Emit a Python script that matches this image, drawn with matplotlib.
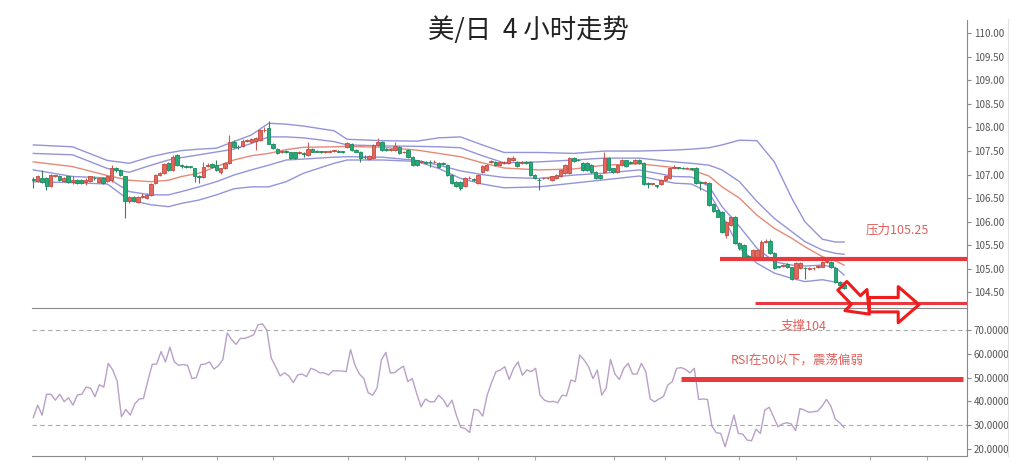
import numpy as np
import matplotlib
matplotlib.use("Agg")
import matplotlib.pyplot as plt
from matplotlib.lines import Line2D

plt.rcParams['font.family'] = ['Noto Sans CJK SC', 'DejaVu Sans']

# 4h candles (USD/JPY)
opens = [106.91, 106.87, 106.92, 106.92, 106.76, 106.97, 106.98, 106.87, 106.96, 106.85,
         106.89, 106.88, 106.85, 106.86, 106.93, 106.85, 106.92, 106.87, 106.89, 107.13,
         107.10, 106.96, 106.43, 106.52, 106.41, 106.53, 106.50, 106.57, 106.82, 106.99,
         107.03, 107.24, 107.10, 107.42, 107.19, 107.18, 107.17, 107.13, 106.96, 106.95,
         107.18, 107.22, 107.20, 107.06, 107.13, 107.24, 107.70, 107.59, 107.60, 107.72,
         107.70, 107.72, 107.73, 107.94, 107.98, 107.66, 107.54, 107.48, 107.49, 107.47,
         107.47, 107.46, 107.45, 107.42, 107.54, 107.50, 107.49, 107.48, 107.49, 107.50,
         107.50, 107.49, 107.58, 107.65, 107.53, 107.49, 107.38, 107.33, 107.36, 107.63,
         107.70, 107.54, 107.53, 107.53, 107.59, 107.47, 107.52, 107.38, 107.30, 107.27,
         107.26, 107.27, 107.26, 107.25, 107.24, 107.20, 106.99, 106.85, 106.85, 106.75,
         106.92, 106.90, 106.82, 107.06, 107.10, 107.27, 107.27, 107.20, 107.25, 107.24,
         107.30, 107.27, 107.25, 107.26, 107.27, 106.99, 106.89, 106.92, 106.92, 106.89,
         106.92, 106.96, 107.03, 107.03, 107.35, 107.31, 107.24, 107.24, 107.20, 107.06,
         106.99, 107.06, 107.35, 107.13, 107.06, 107.20, 107.30, 107.26, 107.24, 107.31,
         107.24, 106.82, 106.80, 106.77, 106.80, 106.89, 106.92, 107.15, 107.15, 107.14,
         107.13, 107.13, 107.15, 106.83, 106.83, 106.82, 106.38, 106.25, 106.20, 105.72,
         105.93, 106.11, 105.54, 105.51, 105.27, 105.26, 105.26, 105.26, 105.58, 105.59,
         105.33, 105.05, 105.06, 105.10, 105.03, 104.80, 105.01, 105.02, 105.00, 105.01,
         105.04, 105.05, 105.15, 105.15, 105.01, 104.73, 104.66]
closes = [106.88, 106.96, 106.85, 106.75, 106.99, 106.98, 106.89, 106.92, 106.85, 106.89,
          106.82, 106.82, 106.89, 106.96, 106.92, 106.92, 106.83, 106.96, 107.15, 107.10,
          106.99, 106.43, 106.52, 106.43, 106.52, 106.55, 106.57, 106.80, 106.99, 107.03,
          107.22, 107.10, 107.38, 107.20, 107.18, 107.17, 107.16, 106.96, 106.94, 107.17,
          107.20, 107.16, 107.10, 107.13, 107.24, 107.70, 107.59, 107.58, 107.72, 107.73,
          107.75, 107.77, 107.94, 107.95, 107.66, 107.56, 107.45, 107.49, 107.48, 107.36,
          107.35, 107.47, 107.44, 107.54, 107.49, 107.49, 107.48, 107.49, 107.50, 107.50,
          107.49, 107.48, 107.68, 107.52, 107.49, 107.35, 107.37, 107.40, 107.63, 107.70,
          107.52, 107.53, 107.54, 107.61, 107.45, 107.48, 107.38, 107.20, 107.20, 107.28,
          107.25, 107.26, 107.27, 107.17, 107.23, 106.99, 106.83, 106.76, 106.71, 106.92,
          106.93, 106.89, 106.99, 107.18, 107.20, 107.28, 107.20, 107.27, 107.26, 107.36,
          107.36, 107.18, 107.26, 107.25, 106.99, 106.92, 106.88, 106.93, 106.92, 106.96,
          106.99, 107.10, 107.20, 107.35, 107.28, 107.30, 107.10, 107.10, 107.06, 106.92,
          106.93, 107.35, 107.10, 107.06, 107.20, 107.31, 107.18, 107.25, 107.32, 107.24,
          106.80, 106.81, 106.81, 106.76, 106.89, 106.97, 107.15, 107.16, 107.14, 107.13,
          107.14, 107.12, 106.82, 106.82, 106.84, 106.36, 106.23, 106.11, 105.79, 106.00,
          106.11, 105.54, 105.44, 105.26, 105.26, 105.40, 105.40, 105.58, 105.59, 105.33,
          105.01, 105.04, 105.07, 105.03, 104.79, 105.12, 105.12, 105.01, 105.01, 105.02,
          105.05, 105.15, 105.16, 105.03, 104.73, 104.66, 104.59]
highs = [106.95, 106.99, 107.10, 106.95, 107.01, 107.00, 107.00, 106.94, 106.98, 106.96,
         106.91, 106.90, 106.92, 106.98, 106.96, 106.95, 106.94, 106.99, 107.20, 107.17,
         107.12, 106.98, 106.55, 106.54, 106.55, 106.60, 106.62, 106.83, 107.01, 107.06,
         107.25, 107.26, 107.42, 107.44, 107.22, 107.20, 107.19, 107.15, 106.99, 107.27,
         107.24, 107.25, 107.30, 107.15, 107.26, 107.84, 107.73, 107.62, 107.75, 107.76,
         107.78, 107.80, 107.97, 108.00, 108.14, 107.68, 107.56, 107.52, 107.52, 107.49,
         107.49, 107.50, 107.48, 107.70, 107.56, 107.52, 107.51, 107.51, 107.52, 107.53,
         107.52, 107.51, 107.70, 107.67, 107.55, 107.51, 107.41, 107.42, 107.66, 107.77,
         107.72, 107.56, 107.56, 107.70, 107.61, 107.51, 107.54, 107.40, 107.32, 107.31,
         107.29, 107.32, 107.30, 107.27, 107.27, 107.22, 107.01, 106.87, 106.87, 106.94,
         106.96, 106.92, 107.01, 107.20, 107.22, 107.32, 107.29, 107.29, 107.29, 107.38,
         107.40, 107.29, 107.28, 107.28, 107.29, 107.01, 106.92, 106.95, 106.95, 106.98,
         107.01, 107.12, 107.22, 107.37, 107.37, 107.33, 107.26, 107.26, 107.22, 107.08,
         107.01, 107.49, 107.37, 107.15, 107.22, 107.33, 107.32, 107.28, 107.34, 107.33,
         107.26, 106.84, 106.83, 106.79, 106.91, 106.99, 107.17, 107.20, 107.17, 107.16,
         107.16, 107.15, 107.17, 106.85, 106.87, 106.84, 106.40, 106.27, 106.22, 106.02,
         106.13, 106.13, 105.58, 105.53, 105.30, 105.42, 105.42, 105.62, 105.63, 105.63,
         105.35, 105.07, 105.10, 105.12, 105.05, 105.14, 105.14, 105.05, 105.03, 105.05,
         105.08, 105.17, 105.20, 105.17, 105.03, 104.75, 104.68]
lows = [106.72, 106.84, 106.83, 106.68, 106.74, 106.94, 106.87, 106.85, 106.83, 106.80,
        106.80, 106.80, 106.78, 106.84, 106.89, 106.83, 106.81, 106.85, 106.85, 107.06,
        106.97, 106.07, 106.40, 106.41, 106.39, 106.50, 106.48, 106.55, 106.80, 106.97,
        107.01, 107.08, 107.08, 107.18, 107.15, 107.15, 107.14, 106.85, 106.82, 106.93,
        107.16, 107.14, 107.08, 107.02, 107.11, 107.22, 107.57, 107.55, 107.58, 107.69,
        107.68, 107.52, 107.71, 107.91, 107.64, 107.54, 107.43, 107.45, 107.45, 107.33,
        107.33, 107.43, 107.38, 107.40, 107.47, 107.47, 107.46, 107.46, 107.47, 107.48,
        107.47, 107.46, 107.56, 107.50, 107.47, 107.26, 107.34, 107.31, 107.34, 107.61,
        107.50, 107.51, 107.51, 107.51, 107.43, 107.45, 107.36, 107.18, 107.18, 107.25,
        107.22, 107.16, 107.24, 107.15, 107.21, 106.97, 106.81, 106.74, 106.67, 106.73,
        106.90, 106.87, 106.80, 107.04, 107.08, 107.25, 107.18, 107.18, 107.22, 107.22,
        107.28, 107.16, 107.23, 107.23, 106.97, 106.90, 106.67, 106.90, 106.90, 106.87,
        106.90, 106.94, 107.01, 107.01, 107.26, 107.28, 107.08, 107.08, 107.04, 106.90,
        106.91, 107.04, 107.08, 107.04, 107.04, 107.18, 107.16, 107.23, 107.22, 107.22,
        106.78, 106.71, 106.78, 106.72, 106.78, 106.87, 106.90, 107.13, 107.12, 107.11,
        107.11, 107.10, 106.80, 106.68, 106.80, 106.34, 106.21, 106.09, 105.77, 105.66,
        105.90, 105.52, 105.40, 105.24, 105.20, 105.24, 105.24, 105.24, 105.55, 105.31,
        104.99, 105.01, 105.03, 105.01, 104.77, 104.78, 104.99, 104.78, 104.97, 104.98,
        105.01, 105.03, 105.12, 105.01, 104.71, 104.64, 104.57]

# bands, read at these candle numbers
band_at = [0, 9, 17, 22, 27, 31, 34, 38, 42, 46, 50, 54, 58, 62, 69, 72, 80, 88, 93,
           98, 103, 108, 116, 124, 131, 139, 147, 151, 155, 158, 162, 166, 170, 174,
           177, 181, 184, 186]
band_up2 = [107.63, 107.59, 107.30, 107.24, 107.38, 107.46, 107.51, 107.54, 107.56, 107.70,
            107.84, 108.09, 108.07, 108.03, 107.93, 107.75, 107.72, 107.71, 107.78, 107.80,
            107.63, 107.47, 107.47, 107.45, 107.50, 107.50, 107.52, 107.54, 107.57, 107.63,
            107.73, 107.72, 107.27, 106.50, 106.00, 105.63, 105.57, 105.57]
band_up1 = [107.45, 107.42, 107.13, 107.05, 107.20, 107.31, 107.36, 107.42, 107.48, 107.54,
            107.66, 107.80, 107.80, 107.78, 107.70, 107.63, 107.61, 107.60, 107.59, 107.57,
            107.40, 107.25, 107.27, 107.31, 107.35, 107.35, 107.27, 107.24, 107.20, 107.10,
            106.85, 106.43, 106.07, 105.79, 105.58, 105.40, 105.33, 105.31]
band_mid = [107.27, 107.17, 106.98, 106.88, 106.85, 106.88, 106.96, 107.03, 107.17, 107.31,
            107.40, 107.45, 107.53, 107.58, 107.59, 107.60, 107.58, 107.52, 107.45, 107.38,
            107.25, 107.14, 107.10, 107.12, 107.20, 107.23, 107.15, 107.10, 106.97, 106.74,
            106.50, 106.14, 105.86, 105.65, 105.47, 105.26, 105.17, 105.08]
band_lo1 = [107.10, 106.96, 106.93, 106.64, 106.57, 106.57, 106.64, 106.74, 106.85, 106.99,
            107.10, 107.20, 107.31, 107.33, 107.37, 107.38, 107.37, 107.30, 107.20, 107.08,
            107.00, 106.94, 106.92, 106.99, 107.03, 107.10, 106.96, 106.95, 106.75, 106.32,
            105.90, 105.44, 105.15, 105.08, 105.06, 105.08, 105.03, 104.87]
band_lo2 = [106.85, 106.83, 106.80, 106.46, 106.36, 106.32, 106.39, 106.46, 106.57, 106.70,
            106.74, 106.74, 106.85, 107.03, 107.24, 107.31, 107.31, 107.28, 107.13, 106.92,
            106.80, 106.72, 106.74, 106.82, 106.89, 106.97, 106.82, 106.80, 106.62, 106.14,
            105.44, 105.12, 104.91, 104.80, 104.73, 104.77, 104.72, 104.70]

rsi = [33.2, 38.4, 34.2, 43.0, 43.0, 40.5, 43.0, 39.9, 41.5, 38.4, 42.7, 43.0, 46.0, 45.5,
       42.0, 47.0, 46.0, 56.0, 53.3, 48.7, 33.5, 36.6, 34.2, 38.8, 41.0, 41.2, 48.7, 55.6,
       55.7, 61.0, 56.6, 62.8, 56.6, 55.2, 55.5, 55.2, 49.6, 50.0, 55.5, 55.7, 56.6, 53.6,
       55.0, 57.5, 68.8, 66.0, 64.0, 66.5, 66.5, 67.2, 68.0, 72.2, 72.6, 70.0, 58.2, 54.6,
       50.7, 52.0, 50.7, 47.9, 51.1, 51.5, 50.4, 53.9, 53.2, 52.0, 52.0, 51.1, 52.9, 52.8,
       52.8, 52.5, 61.8, 55.2, 51.5, 49.6, 43.6, 42.6, 45.5, 57.5, 60.6, 52.0, 52.1, 53.6,
       54.8, 48.3, 49.6, 43.3, 37.7, 41.0, 39.8, 39.8, 42.6, 40.8, 37.7, 40.5, 34.2, 29.0,
       28.6, 26.9, 36.6, 36.3, 33.8, 42.6, 47.9, 52.5, 53.2, 54.6, 49.2, 53.9, 56.6,
       51.0, 53.2, 52.5, 53.9, 42.6, 40.5, 39.8, 40.0, 39.4, 42.6, 42.3, 49.0, 48.3, 59.5,
       57.4, 54.6, 49.6, 53.2, 42.6, 45.5, 57.7, 51.5, 49.2, 53.9, 56.0, 51.5, 51.5, 56.0,
       52.5, 41.0, 39.8, 41.0, 42.0, 46.9, 48.3, 53.9, 54.2, 53.5, 52.0, 53.9, 40.8, 41.0,
       40.8, 29.6, 26.8, 26.5, 20.9, 27.4, 34.2, 26.5, 26.2, 23.7, 23.4, 28.3, 26.5, 36.3,
       37.5, 33.5, 29.3, 30.5, 31.0, 30.5, 27.7, 37.0, 36.3, 35.4, 35.6, 35.9, 38.0, 40.8,
       38.0, 32.5, 31.0, 29.0]

# session separators on the time axis (candle numbers)
day_marks = [11.9, 25, 42.2, 55, 72.2, 85.3, 102, 115, 133.3, 145, 162, 175, 192, 205]

price_ticks = [104.5, 105.0, 105.5, 106.0, 106.5, 107.0, 107.5, 108.0, 108.5, 109.0, 109.5, 110.0]
rsi_ticks = [20, 30, 40, 50, 60, 70]

resistance = 105.22
support = 104.28
rsi_mark = 49.5

RED = '#e8393f'
LABEL_RED = '#e0605c'

fig = plt.figure(figsize=(10.24, 4.70), dpi=100)
ax = fig.add_axes([0.03125, 0.3447, 0.9131, 0.6127])
ax2 = fig.add_axes([0.03125, 0.0298, 0.9131, 0.3149], sharex=ax)
ax.set_zorder(2)
ax2.set_zorder(1)

n = len(closes)
x = np.arange(n)
o = np.array(opens)
c = np.array(closes)
up = c >= o

# wicks
ax.vlines(x[up], np.array(lows)[up], np.array(highs)[up], color='#c4605a', lw=0.8, zorder=2)
ax.vlines(x[~up], np.array(lows)[~up], np.array(highs)[~up], color='#3f7f66', lw=0.8, zorder=2)
# bodies
body = np.maximum(np.abs(c - o), 0.014)
bottom = np.minimum(o, c)
ax.bar(x[up], body[up], bottom=bottom[up], width=0.78, color='#e3675e',
       edgecolor='#c24a42', lw=0.6, zorder=3)
ax.bar(x[~up], body[~up], bottom=bottom[~up], width=0.78, color='#22ab78',
       edgecolor='#1c8a5e', lw=0.6, zorder=3)

# bands
for vals in (band_up2, band_up1, band_lo1, band_lo2):
    ax.plot(band_at, vals, color='#9494da', lw=1.0, zorder=1)
ax.plot(band_at, band_mid, color='#e58a78', lw=1.0, zorder=1)

xmax = 214.2
ax.set_xlim(-0.3, xmax)
ax.set_ylim(104.17, 110.28)

# support / resistance
ax.plot([157.6, xmax], [resistance, resistance], color=RED, lw=3.0, zorder=4, solid_capstyle='butt')
ax.plot([165.6, xmax], [support, support], color=RED, lw=2.2, zorder=4, solid_capstyle='butt')
ax.text(198.2, 105.83, '压力105.25', color=LABEL_RED, fontsize=9, ha='center', va='center')

# hollow arrows
ax.annotate('', xy=(191.8, 104.04), xytext=(185.6, 104.64),
            arrowprops=dict(arrowstyle='simple,head_length=0.7,head_width=1.1,tail_width=0.45',
                            mutation_scale=20, fc='none', ec='#ee1c1c', lw=2.2,
                            shrinkA=0, shrinkB=0),
            annotation_clip=False, zorder=6)
ax.annotate('', xy=(203.2, 104.24), xytext=(191.8, 104.24),
            arrowprops=dict(arrowstyle='simple,head_length=0.75,head_width=1.3,tail_width=0.52',
                            mutation_scale=20, fc='none', ec='#ee1c1c', lw=2.2,
                            shrinkA=0, shrinkB=0),
            annotation_clip=False, zorder=6)

# rsi panel
ax2.plot(np.linspace(0, n - 1, len(rsi)), rsi, color='#b9a0c8', lw=1.0)
ax2.axhline(70, color='#aaaaaa', lw=0.8, ls=(0, (4, 3)))
ax2.axhline(30, color='#aaaaaa', lw=0.8, ls=(0, (4, 3)))
ax2.plot([148.6, 213.3], [rsi_mark, rsi_mark], color=RED, lw=3.6, solid_capstyle='butt')
ax2.text(176.6, 71.6, '支撑104', color=LABEL_RED, fontsize=9, ha='center', va='center')
ax2.text(175.2, 57.4, 'RSI在50以下，震荡偏弱', color=LABEL_RED, fontsize=9, ha='center', va='center')
ax2.set_ylim(17.0, 79.3)

# axes styling
for a in (ax, ax2):
    a.yaxis.tick_right()
    a.spines['left'].set_visible(False)
    a.spines['top'].set_visible(False)
    a.spines['right'].set_color('#8a8a8a')
    a.spines['bottom'].set_color('#8a8a8a')
    a.tick_params(axis='y', colors='#8a8a8a', labelcolor='#555555', labelsize=7,
                  length=3, width=0.8, pad=2)

ax.set_yticks(price_ticks)
ax.set_yticklabels(['%.2f' % v for v in price_ticks])
ax.tick_params(axis='x', bottom=False, labelbottom=False)

ax2.set_yticks(rsi_ticks)
ax2.set_yticklabels(['%.4f' % v for v in rsi_ticks])
ax2.set_xticks(day_marks)
ax2.tick_params(axis='x', colors='#aaaaaa', length=3, width=0.8, labelbottom=False)

fig.text(0.516, 0.936, '美/日  4 小时走势', fontsize=19, ha='center', va='center', color='#222222')
fig.add_artist(Line2D([0.984, 0.984], [0.03, 0.96], color='#e2e2e2', lw=0.8))

fig.savefig('out.png', dpi=100)
